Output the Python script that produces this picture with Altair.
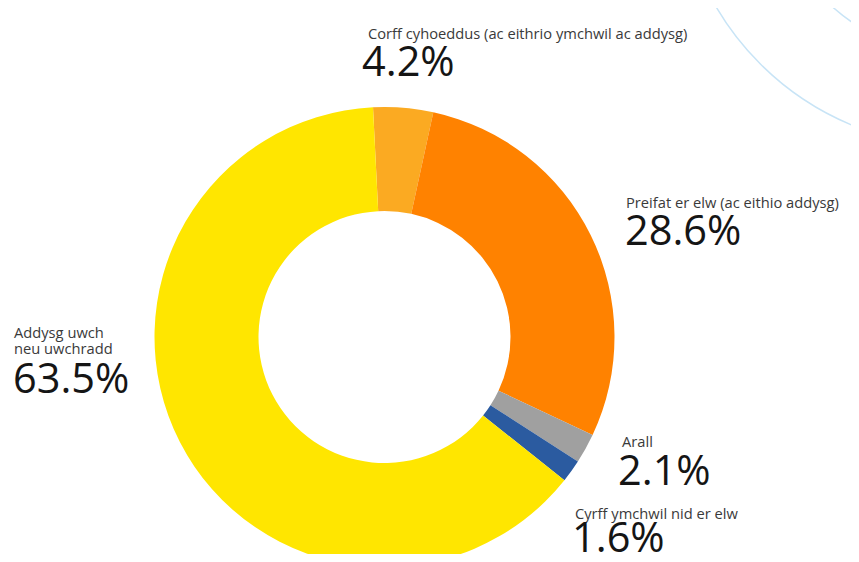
import math
import altair as alt
import pandas as pd

categories = [
    "Corff cyhoeddus (ac eithrio ymchwil ac addysg)",
    "Preifat er elw (ac eithio addysg)",
    "Arall",
    "Cyrff ymchwil nid er elw",
    "Addysg uwch\nneu uwchradd",
]
values = [4.2, 28.6, 2.1, 1.6, 63.5]
value_labels = ["4.2%", "28.6%", "2.1%", "1.6%", "63.5%"]
colors = ["#FBAA22", "#FF8200", "#A0A0A0", "#2B5BA0", "#FFE600"]

df = pd.DataFrame({
    "cat": categories,
    "value": values,
    "label": value_labels,
    "order": list(range(len(categories))),
})

W, H = 843, 546
CX, CY = 376.5, 329
offset = -0.05

donut = alt.Chart(df).mark_arc(outerRadius=230, innerRadius=126, strokeWidth=0).encode(
    theta=alt.Theta("value:Q", stack=True,
                    scale=alt.Scale(range=[offset, 2 * math.pi + offset])),
    color=alt.Color("cat:N", scale=alt.Scale(domain=categories, range=colors), legend=None),
    order=alt.Order("order:Q"),
    x=alt.value(CX),
    y=alt.value(CY),
)

deco = pd.DataFrame({"r": [282.6, 191.5]})
arcs = alt.Chart(deco).mark_arc(
    theta=0, theta2=2 * math.pi, fill="none", stroke="#C8E4F6", strokeWidth=1.5
).encode(
    x=alt.value(952),
    y=alt.value(-144),
    radius=alt.Radius("r:Q", scale=None),
    radius2=alt.Radius2("r:Q"),
)

# label positions (page px minus 8px margin): (small x, small y, big x, big y)
pos = {
    0: (360, 31, 354, 68),
    1: (618, 200, 617, 237),
    2: (614, 439, 610, 477),
    3: (567, 511, 564, 544),
    4: (6, 330, 5, 385),
}

layers = [arcs, donut]
for i, (sx, sy, bx, by) in pos.items():
    base = alt.Chart(df).transform_filter(alt.datum.order == i)
    small = base.mark_text(
        align="left", baseline="alphabetic", font="Open Sans", fontSize=14.7,
        color="#3a3a3a", lineBreak="\n", lineHeight=16,
    ).encode(x=alt.value(sx), y=alt.value(sy), text="cat:N")
    big = base.mark_text(
        align="left", baseline="alphabetic", font="Open Sans", fontSize=41.5,
        color="#151515",
    ).encode(x=alt.value(bx), y=alt.value(by), text="label:N")
    layers += [small, big]

chart = alt.layer(*layers).properties(
    width=W, height=H, autosize=alt.AutoSizeParams(type="none"), padding=0,
).configure_view(strokeWidth=0)

chart.save("out.html", embed_options={"renderer": "svg", "actions": False})
